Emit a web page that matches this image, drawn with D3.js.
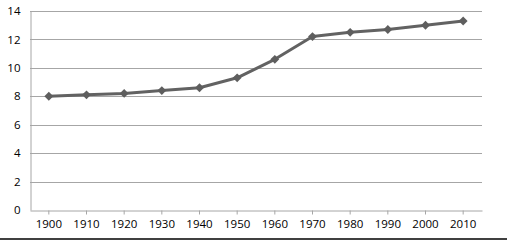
<!DOCTYPE html>
<html>
<head>
<meta charset="utf-8">
<script src="https://cdn.jsdelivr.net/npm/d3@7"></script>
<style>
  body { margin: 0; background: #fff; }
  svg { display: block; font-family: "Open Sans", "Liberation Sans", sans-serif; }
</style>
</head>
<body>
<svg id="chart"></svg>
<script>
// data
const years = ['1900','1910','1920','1930','1940','1950','1960','1970','1980','1990','2000','2010'];
const values = [8.0, 8.1, 8.2, 8.4, 8.6, 9.3, 10.6, 12.2, 12.5, 12.7, 13.0, 13.3];
const yTicks = [0, 2, 4, 6, 8, 10, 12, 14];

const w = 516, h = 243;
const plotL = 30, plotR = 482, plotT = 11, plotB = 210;

const svg = d3.select('#chart').attr('width', w).attr('height', h);

const x = d3.scaleBand().domain(years).range([plotL, plotR]);
const y = d3.scaleLinear().domain([0, 14]).range([plotB, plotT]);

// horizontal grid
svg.append('g')
  .selectAll('line')
  .data(yTicks.filter(d => d > 0))
  .join('line')
    .attr('x1', plotL).attr('x2', plotR)
    .attr('y1', d => Math.round(y(d)) + 0.5).attr('y2', d => Math.round(y(d)) + 0.5)
    .attr('stroke', '#a6a6a6');

// y axis
const yAxis = svg.append('g')
  .attr('transform', `translate(${plotL + 0.5},0)`)
  .call(d3.axisLeft(y).tickValues(yTicks).tickSize(0).tickPadding(10));
yAxis.select('.domain').attr('stroke', '#a6a6a6');
yAxis.selectAll('text').attr('font-size', 11.5).attr('fill', '#000').attr('font-family', '"Open Sans", sans-serif');

// x axis
const xAxis = svg.append('g')
  .attr('transform', `translate(0,${plotB + 0.5})`)
  .call(d3.axisBottom(x).tickSize(4).tickSizeOuter(0).tickPadding(5));
xAxis.select('.domain').attr('stroke', '#a6a6a6');
xAxis.selectAll('.tick line').attr('stroke', '#a6a6a6');
xAxis.selectAll('text').attr('font-size', 11.5).attr('fill', '#000').attr('font-family', '"Open Sans", sans-serif');

// bottom border line
svg.append('line')
  .attr('x1', 0).attr('x2', 507)
  .attr('y1', 239).attr('y2', 239)
  .attr('stroke', '#000').attr('stroke-width', 1.5);

// series line
const line = d3.line()
  .x((d, i) => x(years[i]) + x.bandwidth() / 2)
  .y(d => y(d));

svg.append('path')
  .datum(values)
  .attr('d', line)
  .attr('fill', 'none')
  .attr('stroke', '#626262')
  .attr('stroke-width', 3)
  .attr('stroke-linejoin', 'round');

svg.append('g')
  .selectAll('path')
  .data(values)
  .join('path')
    .attr('d', d3.symbol(d3.symbolDiamond2, 50))
    .attr('transform', (d, i) => `translate(${x(years[i]) + x.bandwidth() / 2},${y(d)})`)
    .attr('fill', '#5e5e5e');
</script>
</body>
</html>
